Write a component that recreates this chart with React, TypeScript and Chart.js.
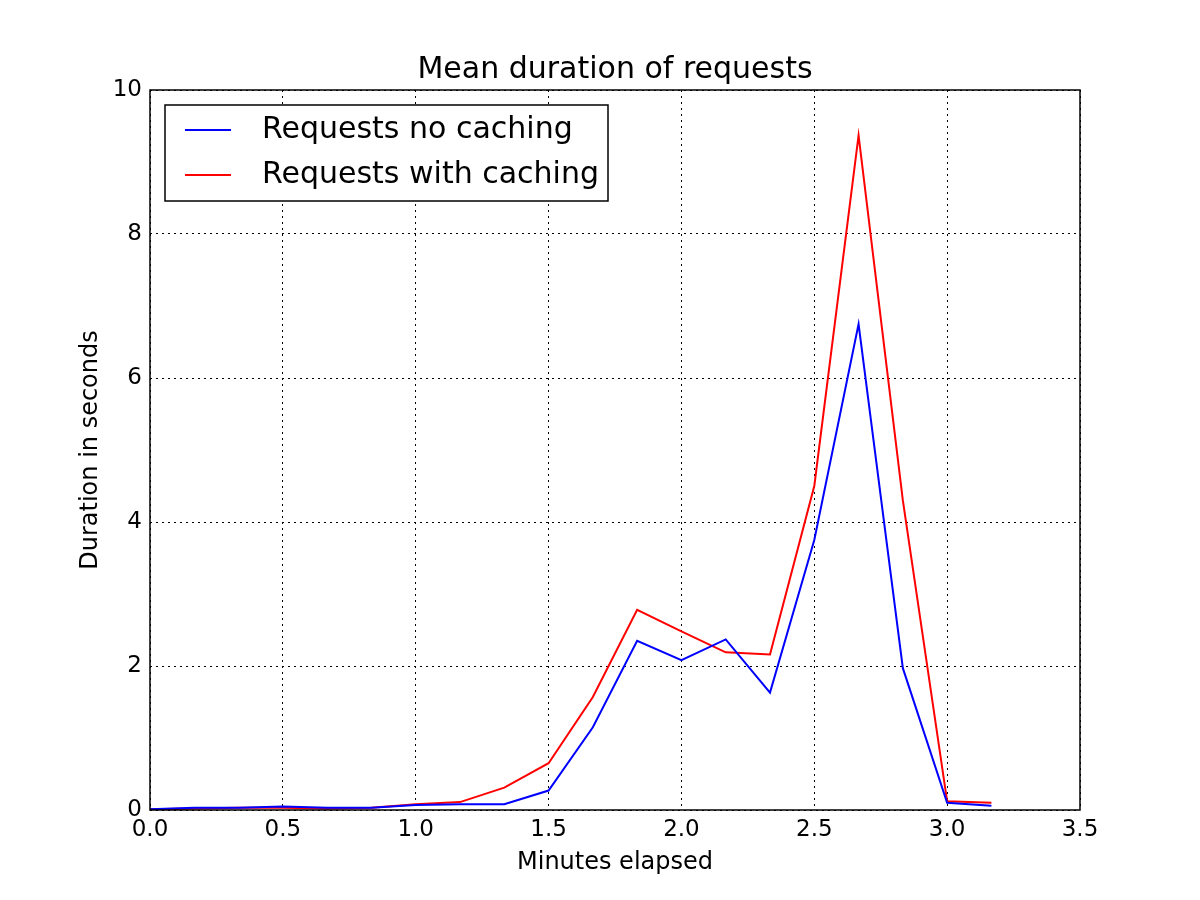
import React, { useEffect, useRef } from "react";
import { Chart, registerables } from "chart.js";
Chart.register(...registerables);

const minutes = [0, 1/6, 2/6, 3/6, 4/6, 5/6, 1, 7/6, 8/6, 9/6, 10/6, 11/6, 2, 13/6, 14/6, 15/6, 16/6, 17/6, 3, 19/6];
const noCaching = [0.01, 0.03, 0.03, 0.05, 0.03, 0.03, 0.07, 0.08, 0.08, 0.27, 1.15, 2.35, 2.08, 2.37, 1.63, 3.75, 6.75, 1.97, 0.1, 0.06];
const withCaching = [0.01, 0.02, 0.03, 0.03, 0.02, 0.03, 0.08, 0.11, 0.31, 0.65, 1.57, 2.78, 2.48, 2.19, 2.16, 4.5, 9.37, 4.3, 0.12, 0.1];
const seriesNames = ["Requests no caching", "Requests with caching"];
const seriesColors = ["#0000ff", "#ff0000"];
const FONT = "'DejaVu Sans', sans-serif";

export default function App() {
  const ref = useRef<HTMLCanvasElement>(null);
  useEffect(() => {
    document.body.style.margin = "0";
    const decor = {
      id: "decor",
      afterDraw(c: any) {
        const ctx = c.ctx;
        const a = c.chartArea;
        ctx.save();
        ctx.strokeStyle = "#000";
        ctx.lineWidth = 1.5;
        ctx.strokeRect(a.left, a.top, a.right - a.left, a.bottom - a.top);
        ctx.fillStyle = "#000";
        ctx.textAlign = "center";
        ctx.textBaseline = "middle";
        ctx.font = `30px ${FONT}`;
        ctx.fillText("Mean duration of requests", (a.left + a.right) / 2, 70);
        ctx.font = `24px ${FONT}`;
        ctx.fillText("Minutes elapsed", (a.left + a.right) / 2, 863);
        ctx.save();
        ctx.translate(91, (a.top + a.bottom) / 2);
        ctx.rotate(-Math.PI / 2);
        ctx.fillText("Duration in seconds", 0, 0);
        ctx.restore();
        // legend
        ctx.fillStyle = "#fff";
        ctx.fillRect(165, 105, 443, 96);
        ctx.lineWidth = 1.5;
        ctx.strokeRect(165, 105, 443, 96);
        ctx.font = `30px ${FONT}`;
        ctx.textAlign = "left";
        seriesNames.forEach((n, i) => {
          const y = 130 + i * 45;
          ctx.strokeStyle = seriesColors[i];
          ctx.lineWidth = 2;
          ctx.beginPath();
          ctx.moveTo(185, y);
          ctx.lineTo(231, y);
          ctx.stroke();
          ctx.fillStyle = "#000";
          ctx.fillText(n, 262, y);
        });
        ctx.restore();
      },
    };
    const mk = (vals: number[], i: number) => ({
      label: seriesNames[i],
      data: minutes.map((x, k) => ({ x, y: vals[k] })),
      borderColor: seriesColors[i],
      borderWidth: 2,
      pointRadius: 0,
      tension: 0,
      fill: false,
    });
    const grid = {
      color: "#000",
      lineWidth: 1,
      drawTicks: false,
    };
    const chart = new Chart(ref.current!, {
      type: "line",
      data: { datasets: [mk(noCaching, 0), mk(withCaching, 1)] },
      options: {
        animation: false,
        responsive: false,
        layout: { padding: { top: 90, right: 120, left: 0, bottom: 0 } },
        plugins: { legend: { display: false }, title: { display: false }, tooltip: { enabled: false } },
        scales: {
          x: {
            type: "linear",
            min: 0,
            max: 3.5,
            border: { display: false, dash: [2, 4] },
            grid,
            ticks: { stepSize: 0.5, color: "#000", font: { family: FONT, size: 23 }, padding: 6, callback: (v: any) => Number(v).toFixed(1), maxRotation: 0 },
            afterFit: (s: any) => { s.height = 90; },
          },
          y: {
            min: 0,
            max: 10,
            border: { display: false, dash: [2, 4] },
            grid,
            ticks: { stepSize: 2, color: "#000", font: { family: FONT, size: 23 }, padding: 8 },
            afterFit: (s: any) => { s.width = 150; },
          },
        },
      },
      plugins: [decor],
    } as any);
    return () => chart.destroy();
  }, []);
  return <canvas ref={ref} width={1200} height={900} style={{ display: "block" }} />;
}
